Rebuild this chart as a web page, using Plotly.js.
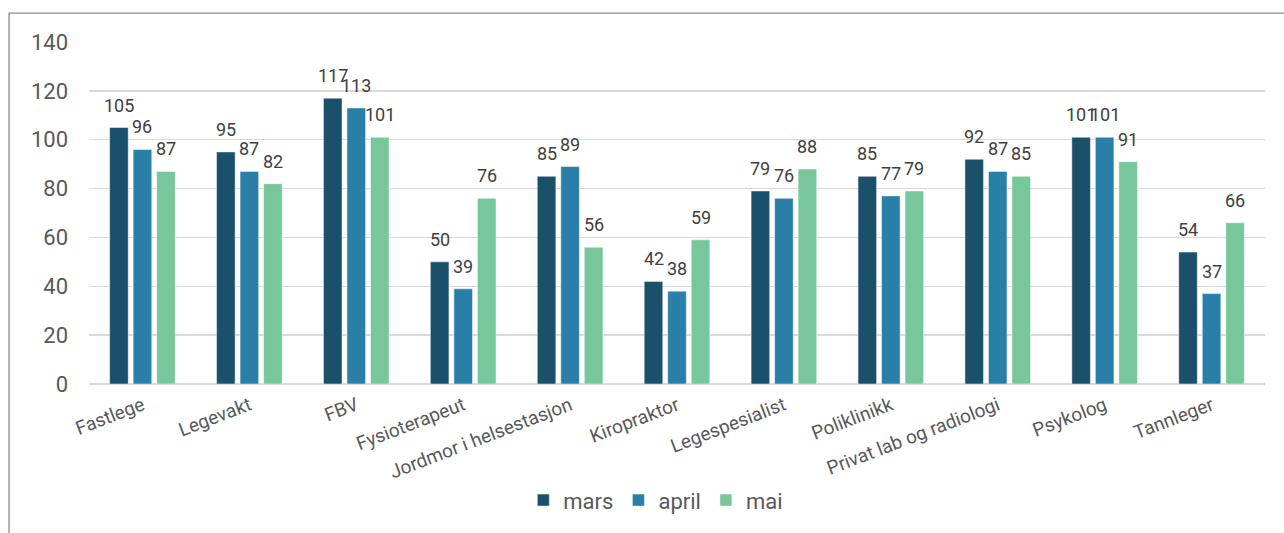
<!DOCTYPE html>
<html>
<head>
<meta charset="utf-8">
<script src="https://cdn.plot.ly/plotly-3.0.1.min.js"></script>
<style>html,body{margin:0;padding:0;background:#fff;}#chart{width:1284px;height:533px;}</style>
</head>
<body>
<div id="chart"></div>
<script>
const categories = ["Fastlege","Legevakt","FBV","Fysioterapeut","Jordmor i helsestasjon","Kiropraktor","Legespesialist","Poliklinikk","Privat lab og radiologi","Psykolog","Tannleger"];
const mars  = [105, 95, 117, 50, 85, 42, 79, 85, 92, 101, 54];
const april = [96, 87, 113, 39, 89, 38, 76, 77, 87, 101, 37];
const mai   = [87, 82, 101, 76, 56, 59, 88, 79, 85, 91, 66];
const seriesNames = ["mars","april","mai"];
const seriesValues = [mars, april, mai];
const colors = ["#1A5069","#2A7FA8","#78C69B"];
const yTicks = [0,20,40,60,80,100,120,140];

const traces = seriesValues.map((vals, i) => ({
  type: 'bar',
  name: seriesNames[i],
  x: categories,
  y: vals,
  marker: {color: colors[i], line: {color: 'rgba(255,255,255,0.6)', width: 0.8}},
  hoverinfo: 'skip'
}));

const shifts = [-23.5, 0, 23.5];
const annotations = [];
seriesValues.forEach((vals, i) => {
  vals.forEach((v, j) => {
    annotations.push({
      x: categories[j], y: v, xref: 'x', yref: 'y',
      text: String(v), showarrow: false,
      xanchor: 'center', yanchor: 'bottom',
      xshift: shifts[i], yshift: 10,
      font: {family: 'Roboto', size: 18, color: '#404040'}
    });
  });
});

const layout = {
  width: 1284, height: 533,
  margin: {l: 89, r: 19, t: 42, b: 147},
  paper_bgcolor: '#ffffff', plot_bgcolor: '#ffffff',
  barmode: 'group', bargap: 0.34, bargroupgap: 0.21,
  font: {family: 'Roboto', color: '#595959'},
  xaxis: {
    type: 'category', tickangle: -21, showgrid: false, zeroline: false,
    showline: false, ticks: '', tickfont: {family: 'Roboto', size: 19, color: '#595959'},
    ticklabelstandoff: 6
  },
  yaxis: {
    range: [0, 140], tickvals: yTicks, showgrid: true, gridcolor: '#D9D9D9', gridwidth: 1.5,
    zeroline: true, zerolinecolor: '#D9D9D9', zerolinewidth: 1.5, showline: false, ticks: '',
    tickfont: {family: 'Roboto', size: 22, color: '#595959'}, ticklabelstandoff: 20
  },
  legend: {
    orientation: 'h', x: 0.482, xanchor: 'center', y: -0.34, yanchor: 'middle',
    font: {family: 'Roboto', size: 22, color: '#595959'}, traceorder: 'normal'
  },
  showlegend: true,
  annotations: annotations,
  shapes: [{
    type: 'rect', xref: 'paper', yref: 'paper',
    x0: -0.068, x1: 1.1, y0: -0.6, y1: 1.0843,
    line: {color: '#8C8C8C', width: 1.3}, fillcolor: 'rgba(0,0,0,0)', layer: 'below'
  }]
};

Plotly.newPlot('chart', traces, layout, {displayModeBar: false, staticPlot: true});
</script>
</body>
</html>
